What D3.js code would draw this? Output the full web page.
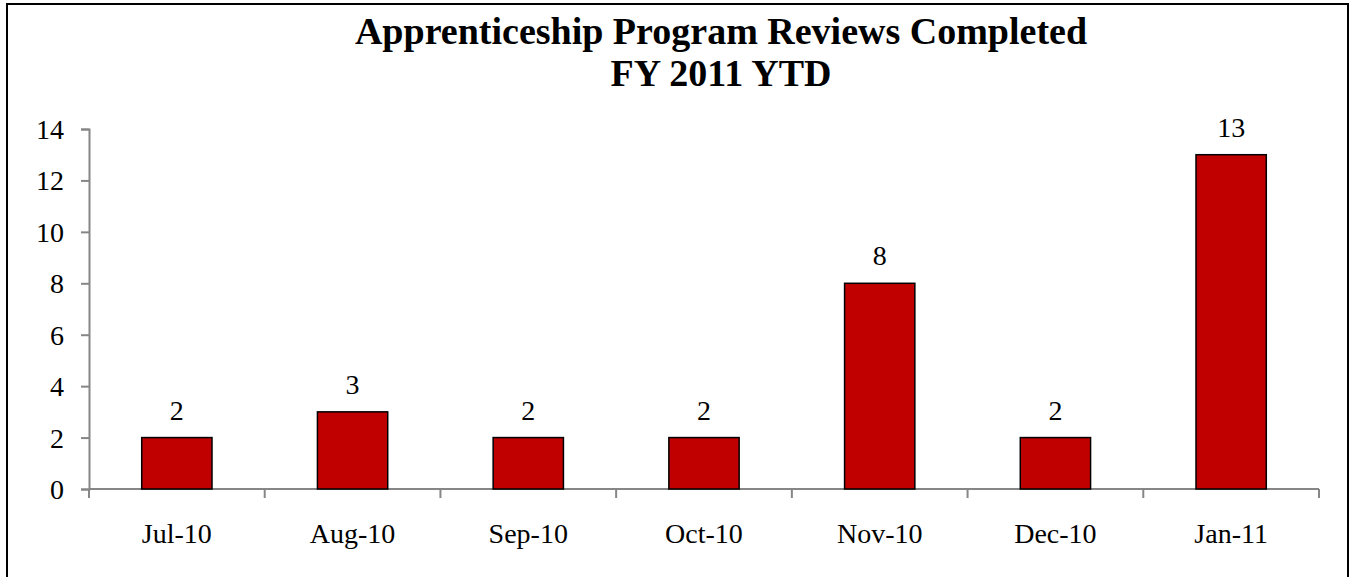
<!DOCTYPE html>
<html>
<head>
<meta charset="utf-8">
<script src="https://cdn.jsdelivr.net/npm/d3@7"></script>
<style>
  body { margin: 0; background: #fff; }
  svg { display: block; font-family: "Liberation Serif", "Times New Roman", serif; }
</style>
</head>
<body>
<div id="chart"></div>
<script>
'use strict'

// Chart data.
const months = ['Jul-10', 'Aug-10', 'Sep-10', 'Oct-10', 'Nov-10', 'Dec-10', 'Jan-11'];
const reviews = [2, 3, 2, 2, 8, 2, 13];
const yTicks = [0, 2, 4, 6, 8, 10, 12, 14];
const titleLines = ['Apprenticeship Program Reviews Completed', 'FY 2011 YTD'];

let width = 1350,
    height = 577,
    margin = {top: 129, right: 31, bottom: 88, left: 89};

let svg = d3.select('#chart')
    .append('svg')
        .attr('width', width)
        .attr('height', height);

// Outer frame (bottom edge runs off the picture).
svg.append('rect')
    .attr('x', 7)
    .attr('y', 4)
    .attr('width', width - 9)
    .attr('height', height + 10)
    .attr('fill', 'none')
    .attr('stroke', '#000')
    .attr('stroke-width', 2);

// Title.
svg.append('text')
    .attr('text-anchor', 'middle')
    .attr('font-weight', 'bold')
    .attr('font-size', 38)
    .selectAll('tspan')
    .data(titleLines)
    .join('tspan')
        .attr('x', 721)
        .attr('y', (d, i) => 44 + i * 42)
        .text(d => d);

let x = d3.scaleBand()
    .domain(months)
    .range([margin.left, width - margin.right])
    .paddingInner(0.6)
    .paddingOuter(0.3);

let y = d3.scaleLinear()
    .domain([0, 14])
    .range([height - margin.bottom, margin.top]);

// Y axis.
let yAxis = svg.append('g')
    .attr('transform', `translate(${margin.left}, 0)`)
    .call(d3.axisLeft(y).tickValues(yTicks).tickSize(8).tickPadding(17).tickFormat(d3.format('d')));

yAxis.attr('font-size', null).attr('font-family', null);
yAxis.select('.domain').attr('stroke', '#868686').attr('stroke-width', 2);
yAxis.selectAll('.tick line').attr('stroke', '#868686').attr('stroke-width', 2);
yAxis.selectAll('.tick text')
    .attr('font-size', 28)
    .attr('dy', '0.34em')
    .attr('fill', '#000');

// X axis with ticks between categories.
let bounds = months.map((m, i) => margin.left + i * x.step()).concat([width - margin.right]);
let xAxis = svg.append('g')
    .attr('transform', `translate(0, ${height - margin.bottom})`);

xAxis.append('line')
    .attr('x1', margin.left)
    .attr('x2', width - margin.right)
    .attr('stroke', '#868686')
    .attr('stroke-width', 2);

xAxis.selectAll('line.tick')
    .data(bounds)
    .join('line')
        .attr('class', 'tick')
        .attr('x1', d => d)
        .attr('x2', d => d)
        .attr('y1', 0)
        .attr('y2', 9)
        .attr('stroke', '#868686')
        .attr('stroke-width', 2);

xAxis.selectAll('text')
    .data(months)
    .join('text')
        .attr('x', d => x(d) + x.bandwidth() / 2)
        .attr('y', 54)
        .attr('text-anchor', 'middle')
        .attr('font-size', 28)
        .attr('fill', '#000')
        .text(d => d);

// Bars.
svg.selectAll('rect.bar')
    .data(reviews)
    .join('rect')
        .attr('class', 'bar')
        .attr('x', (d, i) => x(months[i]))
        .attr('y', d => y(d))
        .attr('width', x.bandwidth())
        .attr('height', d => y(0) - y(d))
        .attr('fill', '#c00000')
        .attr('stroke', '#000')
        .attr('stroke-width', 1.5);

// Value labels.
svg.selectAll('text.value')
    .data(reviews)
    .join('text')
        .attr('class', 'value')
        .attr('x', (d, i) => x(months[i]) + x.bandwidth() / 2)
        .attr('y', d => y(d) - 18)
        .attr('text-anchor', 'middle')
        .attr('font-size', 28)
        .text(d => d);
</script>
</body>
</html>
